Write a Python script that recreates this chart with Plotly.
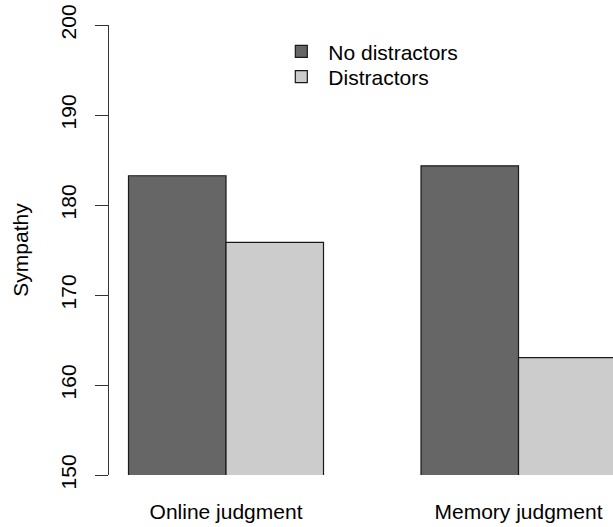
import plotly.graph_objects as go

categories = ["Online judgment", "Memory judgment"]
no_distractors = [183.25, 184.35]
distractors = [175.85, 163.05]
series_names = ["No distractors", "Distractors"]
y_ticks = [150, 160, 170, 180, 190, 200]

FONT = "Liberation Sans, Arial, sans-serif"
FS = 21

fig = go.Figure()
fig.add_trace(go.Bar(x=categories, y=no_distractors, name=series_names[0], legend="legend",
                     marker=dict(color="#666666", line=dict(color="#1a1a1a", width=1.2))))
fig.add_trace(go.Bar(x=categories, y=distractors, name=series_names[1], legend="legend2",
                     marker=dict(color="#CCCCCC", line=dict(color="#1a1a1a", width=1.2))))

leg_common = dict(xanchor="left", yanchor="top", bgcolor="rgba(0,0,0,0)",
                  font=dict(size=FS), itemwidth=44)

fig.update_layout(
    width=613, height=527,
    margin=dict(l=109, r=0, t=25, b=52, autoexpand=False),
    paper_bgcolor="white", plot_bgcolor="white",
    barmode="group", bargap=1/3, bargroupgap=0,
    font=dict(family=FONT, size=FS, color="black"),
    showlegend=True,
    legend=dict(x=0.328, y=0.986, **leg_common),
    legend2=dict(x=0.328, y=0.93, **leg_common),
    xaxis=dict(range=[-0.4, 1.323], showline=False, showgrid=False, zeroline=False,
               ticks="", tickfont=dict(size=FS), ticklabelstandoff=22, automargin=False),
    yaxis=dict(range=[150, 200], tickvals=y_ticks, showline=True, linecolor="#333333",
               linewidth=1, ticks="outside", ticklen=13, tickcolor="#333333",
               tickangle=-90, showgrid=False, zeroline=False, automargin=False,
               tickfont=dict(size=FS), ticklabelstandoff=11,
               title=dict(text="Sympathy", font=dict(size=FS), standoff=22)),
)

fig.write_html("out.html", config={"displayModeBar": False},
               post_script="document.body.style.margin='0';")
